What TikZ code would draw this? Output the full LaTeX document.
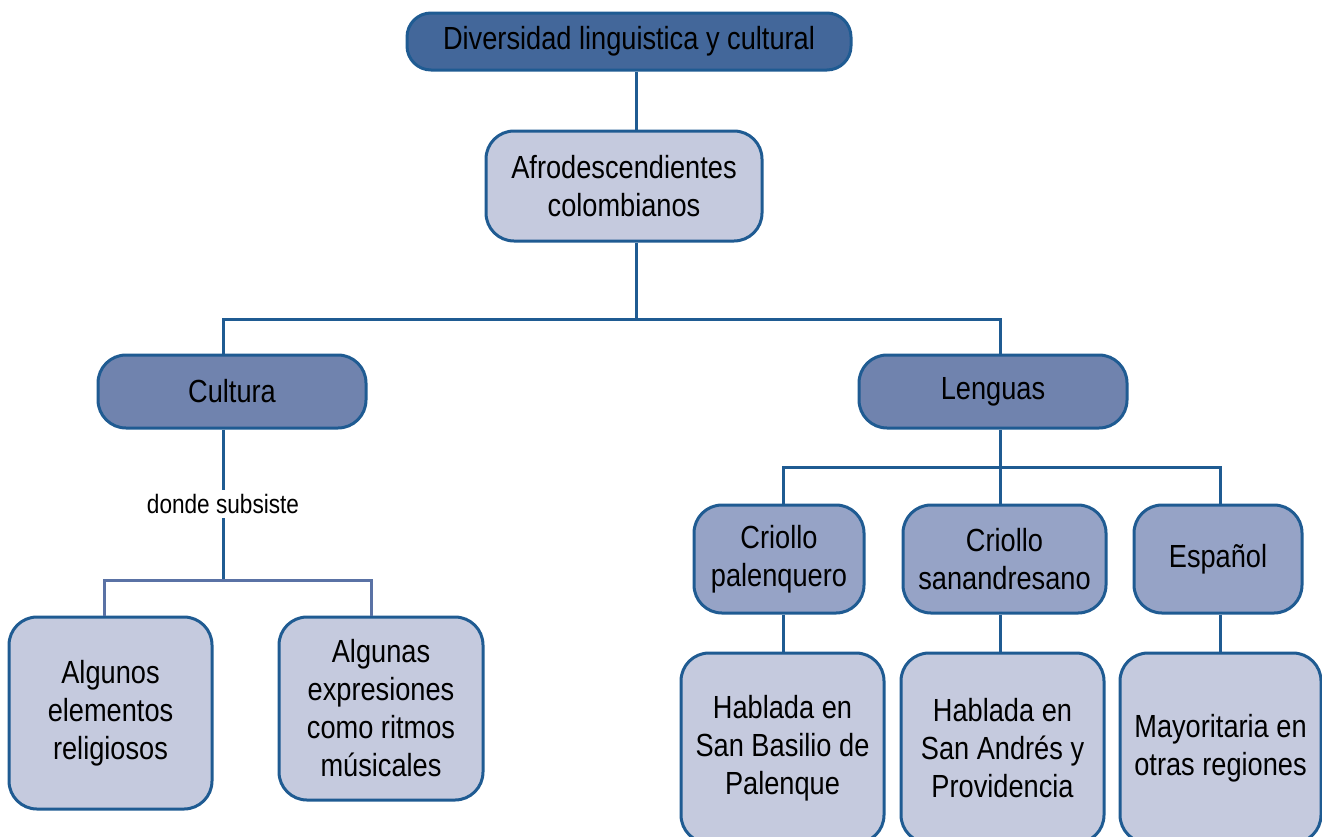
\documentclass[tikz,border=0pt]{standalone}
\usepackage{fontspec}
\setmainfont{Liberation Sans}[FakeStretch=0.85]
\usetikzlibrary{positioning}
\definecolor{edgeblue}{HTML}{1F5B92}
\definecolor{brackblue}{HTML}{5A72A5}
\definecolor{topfill}{HTML}{43679A}
\definecolor{midfill}{HTML}{7083AE}
\definecolor{subfill}{HTML}{96A3C6}
\definecolor{lightfill}{HTML}{C5CADE}

\begin{document}
\begin{tikzpicture}[
  x=0.5pt, y=-0.5pt,
  box/.style={draw=edgeblue, line width=1.5pt, rounded corners=14pt, align=center,
    inner sep=0pt, font=\fontsize{16}{19}\selectfont},
  topbox/.style={box, fill=topfill, rounded corners=12pt},
  midbox/.style={box, fill=midfill},
  subbox/.style={box, fill=subfill},
  leafbox/.style={box, fill=lightfill},
  link/.style={draw=edgeblue, line width=1.5pt},
  brack/.style={draw=brackblue, line width=1.5pt}
]
\useasboundingbox (0,0) rectangle (1322,836);
\clip (0,0) rectangle (1322,836);

% nodes
\node[topbox, minimum width=222pt, minimum height=28.5pt] (top) at (629,41.5) {Diversidad linguistica y cultural};
\node[leafbox, minimum width=138pt, minimum height=55pt] (afro) at (624,186) {Afrodescendientes\\colombianos};
\node[midbox, minimum width=134pt, minimum height=36.5pt] (cultura) at (232,391.5) {Cultura};
\node[midbox, minimum width=134pt, minimum height=36.5pt] (lenguas) at (993,391.5) {\raisebox{-1.5pt}{Lenguas}};

\node[leafbox, minimum width=101.5pt, minimum height=96pt] (religion) at (110.5,713) {Algunos\\elementos\\religiosos};
\node[leafbox, minimum width=102pt, minimum height=91.5pt] (ritmos) at (381,708.5) {Algunas\\expresiones\\como ritmos\\músicales};

\node[subbox, minimum width=85pt, minimum height=54pt] (palenq) at (779,559) {Criollo\\palenquero};
\node[subbox, minimum width=101.5pt, minimum height=54pt] (sanand) at (1004.5,559) {Criollo\\sanandresano};
\node[subbox, minimum width=84pt, minimum height=54pt] (espanol) at (1218,559) {Español};

\node[leafbox, minimum width=101.5pt, minimum height=95pt] (basilio) at (782.5,748) {Hablada en\\San Basilio de\\Palenque};
\node[leafbox, minimum width=101.5pt, minimum height=95pt] (andres) at (1002.5,748) {Hablada en\\San Andrés y\\Providencia};
\node[leafbox, minimum width=100.5pt, minimum height=95pt] (regiones) at (1220.5,748) {Mayoritaria en\\otras regiones};

% junctions
\coordinate (j1) at (636,319);
\coordinate (cx) at (223,319);
\coordinate (lx) at (1000,319);
\coordinate (cb) at (223,580);
\coordinate (ba) at (104,580);
\coordinate (bb) at (371,580);
\coordinate (lb) at (1000,467);
\coordinate (la) at (783,467);
\coordinate (lc) at (1220,467);

% connectors
\draw[link] (top.south -| j1) -- (afro.north -| j1);
\draw[link] (afro.south -| j1) -- (j1);
\draw[link] (cultura.north -| cx) -- (cx) -- (lx) -- (lenguas.north -| lx);
\draw[link] (cultura.south -| cb) -- (cb);
\draw[brack] (religion.north -| ba) -- (ba) -- (bb) -- (ritmos.north -| bb);
\node[fill=white, inner sep=2pt, font=\fontsize{13.3}{15}\selectfont] (subsiste) at (223,504) {donde subsiste};

\draw[link] (lenguas.south -| lb) -- (lb);
\draw[link] (palenq.north -| la) -- (la) -- (lc) -- (espanol.north -| lc);
\draw[link] (lb) -- (sanand.north -| lb);
\draw[link] (palenq.south -| la) -- (basilio.north -| la);
\draw[link] (sanand.south -| lb) -- (andres.north -| lb);
\draw[link] (espanol.south -| lc) -- (regiones.north -| lc);
\end{tikzpicture}
\end{document}
